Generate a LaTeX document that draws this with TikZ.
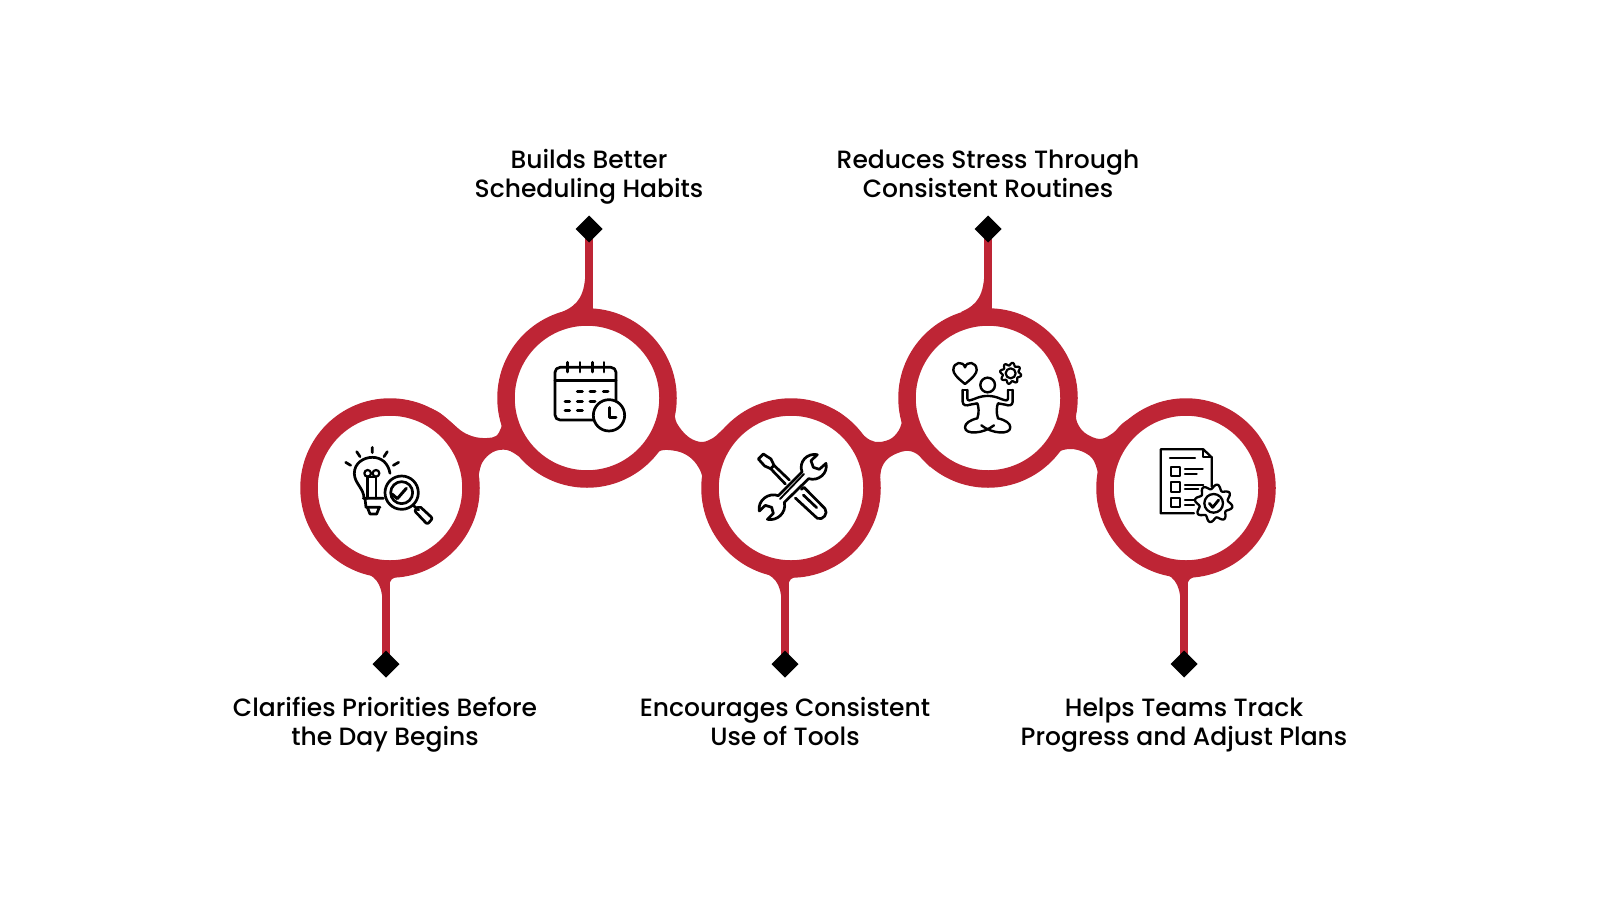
\documentclass[tikz,border=0pt]{standalone}
\usepackage{fontspec}
\setmainfont{Poppins}[UprightFont=* Medium,BoldFont=* SemiBold]
\usetikzlibrary{shapes.geometric,backgrounds}
\definecolor{brand}{HTML}{BE2535}
\tikzset{
  x=1pt,y=-1pt,
  ring/.style={circle,draw=brand,fill=white,line width=17.5pt,minimum size=162pt,inner sep=0pt,outer sep=0pt},
  tip/.style={diamond,fill=black,minimum size=27pt,inner sep=0pt,outer sep=0pt},
  stem/.style={draw=brand,line width=7.5pt},
  blob/.style={fill=brand},
  label/.style={align=center,font=\fontsize{25}{29.5}\selectfont,text=black,inner sep=0pt},
  icon/.style={x=0.3333pt,y=-0.3333pt,line width=2.7pt,line cap=round,line join=round,draw=black},
}
\newcommand{\joint}[2]{\fill[blob] plot[smooth,tension=.6] coordinates {#1} -- plot[smooth,tension=.6] coordinates {#2} -- cycle;}
% stem flares
\newcommand{\flareup}[1]{%
  \begin{scope}[xshift=#1pt]
  \fill[blob] (585.5,268) .. controls (585.5,296) and (578,305) .. (562,312) -- (600,314) -- (592.5,314) -- (592.5,300) -- cycle;
  \end{scope}}
\newcommand{\flaredown}[1]{%
  \begin{scope}[xshift=#1pt]
  \fill[blob] (360,571) .. controls (375,575) and (382,583) .. (382.5,602) -- (389.5,602) -- (389.5,586) .. controls (389.5,580) and (392,577.5) .. (400,576) -- cycle;
  \end{scope}}
\newcommand{\gearcurve}[5]{% cx cy mean amp teeth
  plot[domain=0:360,samples=121,smooth] ({#1+(#3+#4*sin(#5*\x))*cos(\x)},{#2+(#3+#4*sin(#5*\x))*sin(\x)})}
\begin{document}
\begin{tikzpicture}
\useasboundingbox (0,0) rectangle (1600,900);
% rings
\node[ring] (c1) at (390,488) {};
\node[ring] (c2) at (587,398) {};
\node[ring] (c3) at (791,488) {};
\node[ring] (c4) at (988,398) {};
\node[ring] (c5) at (1186,488) {};
% diamonds
\node[tip] (d1) at (386,664) {};
\node[tip] (d2) at (589,229) {};
\node[tip] (d3) at (785,664) {};
\node[tip] (d4) at (988,229) {};
\node[tip] (d5) at (1184,664) {};
% labels
\node[label] (t1) at (385,725) {\strut Clarifies Priorities Before\\\strut the Day Begins};
\node[label] (t2) at (589,177) {\strut Builds Better\\\strut Scheduling Habits};
\node[label] (t3) at (785,725) {\strut Encourages Consistent\\\strut Use of Tools};
\node[label] (t4) at (988,177) {\strut Reduces Stress Through\\\strut Consistent Routines};
\node[label] (t5) at (1184,725) {\strut Helps Teams Track\\\strut Progress and Adjust Plans};
\begin{scope}[on background layer]
  \fill[white] (0,0) rectangle (1600,900);
  \draw[stem] (d1.center) -- (d1.center |- c1.south);
  \draw[stem] (d2.center) -- (d2.center |- c2.north);
  \draw[stem] (d3.center) -- (d3.center |- c3.south);
  \draw[stem] (d4.center) -- (d4.center |- c4.north);
  \draw[stem] (d5.center) -- (d5.center |- c5.south);
  \flaredown{0}\flaredown{399}\flaredown{798}
  \flareup{0}\flareup{399}
  \joint{(430,408)(440,413)(452,423)(463,432)(475,437)(487,438)(496,436)(501,428)(502,420)(498,400)}
        {(530,463)(520,457)(507,450)(493,452)(482,463)(478,480)}
  \joint{(676,398)(675,417)(680,428)(690,438)(702,442)(713,438)(720,432)(730,423)(741,415)}
        {(703,480)(700,470)(692,459)(680,452)(664,450)(655,454)(650,460)}
  \joint{(830,408)(840,413)(850,422)(860,432)(870,440)(880,442)(892,438)(900,428)(902,417)(899,400)}
        {(930,467)(917,454)(905,451)(890,457)(882,467)(880,480)}
  \joint{(1077,398)(1076,410)(1077,422)(1085,433)(1100,439)(1113,433)(1123,423)(1140,412)}
        {(1098,480)(1098,473)(1092,458)(1078,450)(1063,450)(1050,458)}
\end{scope}
% icon 1: bulb and magnifier
\begin{scope}[shift={(320,420)},icon]
  \draw (157,82)--(157,98) (110,95)--(120,110) (202,95)--(192,110) (77,127)--(92,136) (236,127)--(220,136);
  \draw (132,235) .. controls (132,205) and (103,190) .. (103,160) .. controls (103,130) and (130,112) .. (157,112)
        .. controls (185,112) and (205,130) .. (210,160);
  \draw (143,235)--(143,170) (168,235)--(168,170);
  \draw[line width=2.2pt] (143,160) circle[radius=10] (168,160) circle[radius=10];
  \draw[line width=2.2pt] (143,170)--(168,170);
  \draw (130,235)--(190,235) (135,235)--(138,262)--(180,262) (142,262)--(150,282)--(170,282)--(178,262);
  \draw[fill=white] (245,218) circle[radius=50];
  \draw (245,218) circle[radius=33];
  \draw[line width=3pt] (216,222)--(232,236)--(259,205);
  \draw (282,258)--(296,270);
  \draw[rounded corners=2pt] (283,272)--(298,258)--(338,295)--(322,313)--cycle;
\end{scope}
% icon 2: calendar and clock
\begin{scope}[shift={(530,340)},icon]
  \draw[rounded corners=5pt] (75,82) rectangle (258,240);
  \draw (75,122)--(258,122);
  \draw (112,67)--(112,96) (150,67)--(150,96) (187,67)--(187,96) (222,67)--(222,96);
  \draw[line width=3pt] (142,153)--(157,153) (180,153)--(195,153) (220,153)--(234,153)
     (105,183)--(119,183) (142,183)--(157,183) (180,183)--(195,183)
     (105,212)--(119,212) (142,212)--(157,212);
  \draw[fill=white] (237,226) circle[radius=47];
  \draw[line width=3pt] (237,203)--(237,232)--(258,232);
\end{scope}
% icon 3: tools
\begin{scope}[shift={(730,430)},icon]
  \draw (85,87)--(100,72)--(123,87)--(132,106)--(122,116)--(104,108)--cycle;
  \draw (132,106)--(178,150) (122,116)--(166,162);
  \draw (214,178)--(222,172)--(285,236) .. controls (295,250) and (280,272) .. (262,265)--(196,204);
  \draw (220,195)--(260,233);
  \draw[fill=white] (262,74) .. controls (232,68) and (205,95) .. (216,126) -- (145,197)
     .. controls (115,186) and (82,212) .. (88,243) -- (106,226) -- (125,232) -- (130,250) -- (112,268)
     .. controls (142,274) and (170,248) .. (163,217) -- (236,146)
     .. controls (265,155) and (295,130) .. (288,100) -- (268,118) -- (250,112) -- (243,92) -- cycle;
  \draw[line width=1.9pt] (150,207)--(222,132);
\end{scope}
% icon 4: meditation
\begin{scope}[shift={(920,340)},icon,line width=2.4pt]
  \draw (135,132) .. controls (110,112) and (100,100) .. (100,90) .. controls (100,65) and (130,62) .. (135,82)
     .. controls (140,62) and (170,65) .. (170,90) .. controls (170,100) and (160,112) .. (135,132) -- cycle;
  \draw[line width=2.2pt] \gearcurve{272}{100}{28}{4}{8};
  \draw[line width=2.2pt] (272,100) circle[radius=15];
  \draw (203,135) circle[radius=22];
  \draw (128,150) -- (128,185) .. controls (128,197) and (140,198) .. (150,194) -- (172,190)
     .. controls (176,200) and (178,218) .. (172,235) .. controls (150,240) and (135,250) .. (135,262)
     .. controls (135,285) and (190,282) .. (222,256);
  \draw (278,150) -- (278,185) .. controls (278,197) and (266,198) .. (256,194) -- (234,190)
     .. controls (230,200) and (228,218) .. (234,235) .. controls (256,240) and (271,250) .. (271,262)
     .. controls (271,285) and (216,282) .. (184,256);
  \draw (128,150)--(142,150) (278,150)--(264,150);
  \draw (142,150)--(142,175) .. controls (142,184) and (150,182) .. (165,176) .. controls (190,165) and (216,165) .. (241,176)
     .. controls (256,182) and (264,184) .. (264,175) -- (264,150);
\end{scope}
% icon 5: document and gear
\begin{scope}[shift={(1120,430)},icon,line width=2.3pt]
  \draw (222,250)--(122,250)--(122,58)--(250,58)--(275,82)--(275,170);
  \draw (250,58)--(250,82)--(275,82);
  \draw (150,85)--(225,85);
  \draw (153,110) rectangle (180,138) (153,157) rectangle (180,185) (153,203) rectangle (180,230);
  \draw (195,118)--(248,118) (195,133)--(230,133) (195,165)--(250,165) (195,178)--(235,178) (195,210)--(222,210) (195,225)--(222,225);
  \draw[fill=white] \gearcurve{281}{220}{50}{7}{8};
  \draw (281,220) circle[radius=28];
  \draw[line width=2.8pt] (268,220)--(278,232)--(296,210);
\end{scope}
\end{tikzpicture}
\end{document}
